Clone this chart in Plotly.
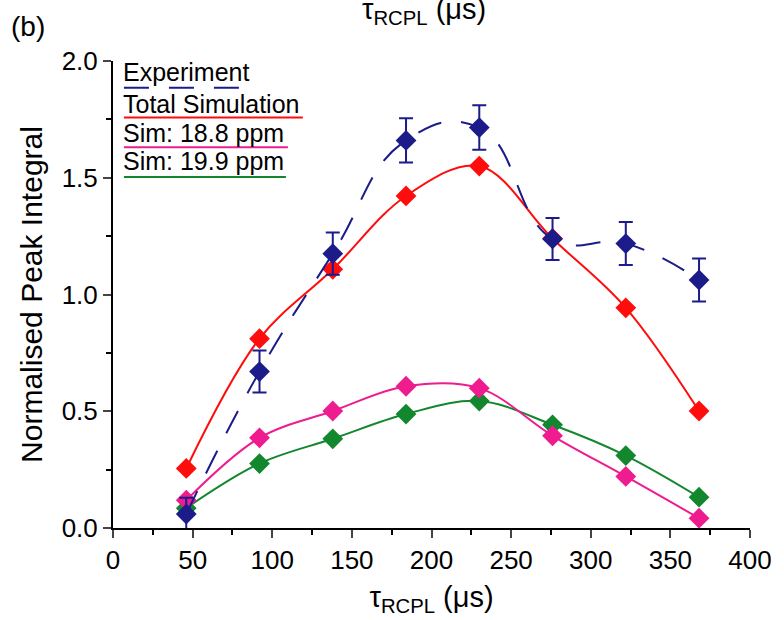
import plotly.graph_objects as go

tau = [46, 92, 138, 184, 230, 276, 322, 368]
experiment = [0.06, 0.67, 1.175, 1.66, 1.715, 1.238, 1.218, 1.062]
experiment_err = [0.07, 0.09, 0.09, 0.095, 0.095, 0.09, 0.092, 0.092]
total_sim = [0.255, 0.811, 1.108, 1.422, 1.55, 1.24, 0.943, 0.501]
sim_188 = [0.119, 0.386, 0.501, 0.607, 0.599, 0.395, 0.221, 0.042]
sim_199 = [0.085, 0.276, 0.382, 0.488, 0.544, 0.442, 0.31, 0.132]

x_ticks = [0, 50, 100, 150, 200, 250, 300, 350, 400]
y_ticks = [0.0, 0.5, 1.0, 1.5, 2.0]
y_tick_labels = ["0.0", "0.5", "1.0", "1.5", "2.0"]
legend_names = ["Experiment", "Total Simulation", "Sim: 18.8 ppm", "Sim: 19.9 ppm"]

NAVY = "#1b1b8a"
RED = "#ff0d0d"
PINK = "#ee1c8e"
GREEN = "#12872e"
FONT = "Liberation Sans, Arial, sans-serif"

fig = go.Figure()

fig.add_trace(go.Scatter(x=tau, y=sim_199, mode="lines+markers", name=legend_names[3],
                         line=dict(color=GREEN, width=2, shape="spline", smoothing=1.0),
                         marker=dict(symbol="diamond", size=16, color=GREEN)))
fig.add_trace(go.Scatter(x=tau, y=sim_188, mode="lines+markers", name=legend_names[2],
                         line=dict(color=PINK, width=2, shape="spline", smoothing=1.0),
                         marker=dict(symbol="diamond", size=16, color=PINK)))
fig.add_trace(go.Scatter(x=tau, y=total_sim, mode="lines+markers", name=legend_names[1],
                         line=dict(color=RED, width=2, shape="spline", smoothing=1.0),
                         marker=dict(symbol="diamond", size=16, color=RED)))
fig.add_trace(go.Scatter(x=tau, y=experiment, mode="lines+markers", name=legend_names[0],
                         line=dict(color=NAVY, width=2, shape="spline", smoothing=1.3, dash="25px,20px"),
                         marker=dict(symbol="diamond", size=16, color=NAVY),
                         error_y=dict(type="data", array=experiment_err, color=NAVY, thickness=2, width=7)))

# plot area in pixels
L, R, T, B = 113, 754, 61, 532
W, H = R - L, B - T

def px(xp):
    return (xp - L) / W

def py(yp):
    return (B - yp) / H

annotations = []
shapes = []
leg_text_y = [72, 104, 134, 162]
leg_line_y = [88, 118, 148, 178]
leg_line_x2 = [250, 304, 289, 287]
leg_colors = [NAVY, RED, PINK, GREEN]
for i, name in enumerate(legend_names):
    annotations.append(dict(text=name, xref="paper", yref="paper", x=px(121), y=py(leg_text_y[i]),
                            xanchor="left", yanchor="middle", showarrow=False,
                            font=dict(family=FONT, size=25, color="black")))
    shapes.append(dict(type="line", xref="paper", yref="paper",
                       x0=px(124), x1=px(leg_line_x2[i]), y0=py(leg_line_y[i]), y1=py(leg_line_y[i]),
                       line=dict(color=leg_colors[i], width=2, dash="25px,20px" if i == 0 else "solid")))

annotations.append(dict(text="(b)", xref="paper", yref="paper", x=px(8), y=py(26),
                        xanchor="left", yanchor="middle", showarrow=False,
                        font=dict(family=FONT, size=28, color="black")))
annotations.append(dict(text="τ<sub>RCPL</sub> (μs)", xref="paper", yref="paper", x=px(426), y=py(11),
                        xanchor="center", yanchor="middle", showarrow=False,
                        font=dict(family=FONT, size=29, color="black")))

fig.update_layout(
    width=784, height=620,
    margin=dict(l=L, r=784 - R, t=T, b=620 - B),
    plot_bgcolor="white", paper_bgcolor="white",
    showlegend=False,
    font=dict(family=FONT, size=26, color="black"),
    annotations=annotations,
    shapes=shapes,
    xaxis=dict(range=[0, 400], tickvals=x_ticks, ticks="outside", ticklen=8, tickwidth=2,
               showline=True, linecolor="black", linewidth=2, showgrid=False, zeroline=False,
               minor=dict(dtick=25, ticks="outside", ticklen=5, tickwidth=2, tickcolor="black"),
               tickfont=dict(family=FONT, size=26),
               title=dict(text="τ<sub>RCPL</sub> (μs)", font=dict(family=FONT, size=29), standoff=12)),
    yaxis=dict(range=[0, 2.0], tickvals=y_ticks, ticktext=y_tick_labels, ticks="outside", ticklen=8,
               tickwidth=2, showline=True, linecolor="black", linewidth=2, showgrid=False, zeroline=False,
               minor=dict(dtick=0.25, ticks="outside", ticklen=5, tickwidth=2, tickcolor="black"),
               tickfont=dict(family=FONT, size=26),
               title=dict(text="Normalised Peak Integral", font=dict(family=FONT, size=30), standoff=10)),
)

fig.write_html("out.html")
